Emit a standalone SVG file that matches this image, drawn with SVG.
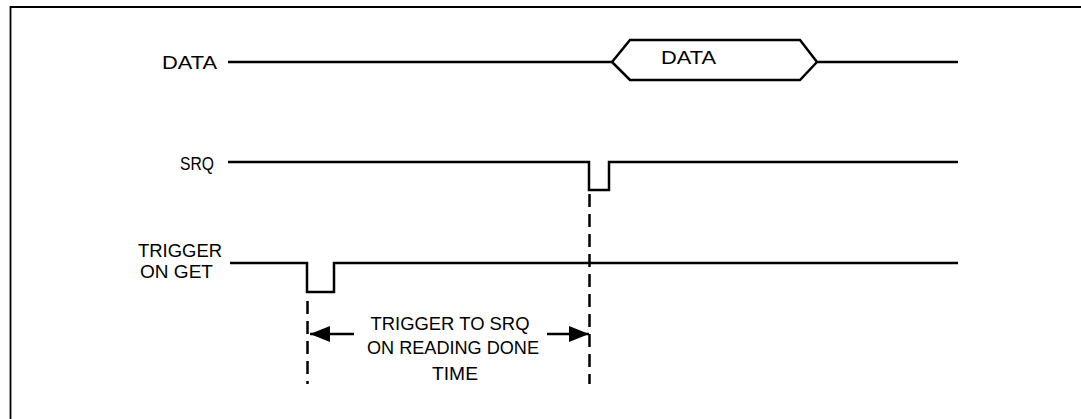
<svg xmlns="http://www.w3.org/2000/svg" width="1081" height="419" viewBox="0 0 1081 419">
<style>
.sig{fill:none;stroke:#000;stroke-width:2.5;stroke-linejoin:miter}
.dash{fill:none;stroke:#000;stroke-width:2.5;stroke-dasharray:13 7}
.lbl{font-family:"Liberation Sans",Arial,sans-serif;font-size:18px;fill:#000}
.arr{fill:none;stroke:#000;stroke-width:2.5}
</style>
<defs>
<marker id="ah" viewBox="0 0 20 16" refX="20" refY="8" markerWidth="20" markerHeight="16" markerUnits="userSpaceOnUse" orient="auto">
<path d="M0,0 L20,8 L0,16 Z" fill="#000"/>
</marker>
</defs>
<rect width="1081" height="419" fill="#fff"/>
<g id="frame">
<path d="M10.5,419 L10.5,7 L1081,7" fill="none" stroke="#000" stroke-width="1.8"/>
</g>
<g id="data">
<text class="lbl" x="162" y="69" textLength="55" lengthAdjust="spacingAndGlyphs">DATA</text>
<path class="sig" d="M228,62 L612,62 L630,40 L800,40 L817,62 L958,62 M612,62 L630,80 L800,80 L817,62"/>
<text class="lbl" x="661" y="64" textLength="55" lengthAdjust="spacingAndGlyphs">DATA</text>
</g>
<g id="srq">
<text class="lbl" x="180" y="170" textLength="34" lengthAdjust="spacingAndGlyphs">SRQ</text>
<path class="sig" d="M228,162 L589,162 L589,190 L609,190 L609,162 L958,162"/>
</g>
<g id="trigger">
<text class="lbl" x="138" y="257" textLength="84" lengthAdjust="spacingAndGlyphs">TRIGGER</text>
<text class="lbl" x="140" y="278" textLength="73" lengthAdjust="spacingAndGlyphs">ON GET</text>
<path class="sig" d="M230,263 L307,263 L307,292 L334,292 L334,263 L958,263"/>
</g>
<g id="connectors">
<line class="dash" x1="307.5" y1="301" x2="307.5" y2="384"/>
<line class="dash" x1="589.5" y1="194" x2="589.5" y2="384"/>
<line class="arr" x1="354" y1="334" x2="310" y2="334" marker-end="url(#ah)"/>
<line class="arr" x1="547" y1="334" x2="589" y2="334" marker-end="url(#ah)"/>
</g>
<g id="interval-label">
<text class="lbl" x="450" y="330" text-anchor="middle" textLength="159" lengthAdjust="spacingAndGlyphs">TRIGGER TO SRQ</text>
<text class="lbl" x="453" y="354" text-anchor="middle" textLength="172" lengthAdjust="spacingAndGlyphs">ON READING DONE</text>
<text class="lbl" x="455" y="380" text-anchor="middle" textLength="46" lengthAdjust="spacingAndGlyphs">TIME</text>
</g>
</svg>
